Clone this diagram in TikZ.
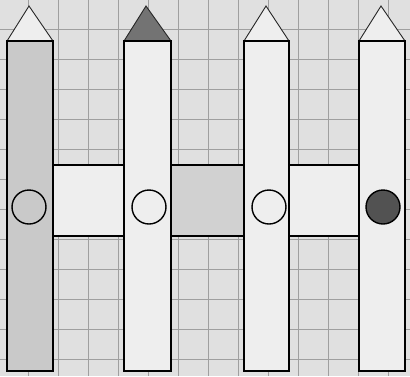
\documentclass[tikz,border=0pt]{standalone}
\usetikzlibrary{positioning}
\tikzset{
  gridline/.style={draw=gray!75, line width=0.6pt},
  picket/.style={draw=black, line width=1.4pt, fill=gray!13},
  rail/.style={draw=black, line width=1.2pt, fill=gray!13},
  tip/.style={draw=black!85, line width=0.9pt, fill=gray!13},
  knot/.style={draw=black, line width=1.4pt}
}

\begin{document}
\begin{tikzpicture}[x=1pt,y=-1pt]
\useasboundingbox (0,0) rectangle (410,376);
% paper and squares
\fill[gray!24] (0,0) rectangle (410,376);
\foreach \gx in {-2,28,...,388} \draw[gridline] (\gx,0) -- (\gx,376);
\foreach \gy in {29,59,...,359} \draw[gridline] (0,\gy) -- (410,\gy);
% rails
\draw[rail] (53,165) rectangle (124,236);
\draw[rail, fill=gray!36] (171,165) rectangle (244,236);
\draw[rail] (289,165) rectangle (359,236);
% pickets: left/right/apex/body/tip
\foreach \l/\r/\c/\body/\top in {7/53/29/gray!42/gray!13, 124/171/146/gray!13/black!55,
    244/289/266/gray!13/gray!13, 359/405/381/gray!13/gray!13}{
  \draw[tip, fill=\top] (\l,41) -- (\c,6) -- (\r,41) -- cycle;
  \draw[picket, fill=\body] (\l,41) rectangle (\r,371);
}
% knots
\draw[knot] (29,207) circle[radius=17];
\draw[knot, fill=gray!13] (149,207) circle[radius=17];
\draw[knot, fill=gray!13] (269,207) circle[radius=17];
\draw[knot, fill=black!68] (383,207) circle[radius=17];
\end{tikzpicture}
\end{document}
